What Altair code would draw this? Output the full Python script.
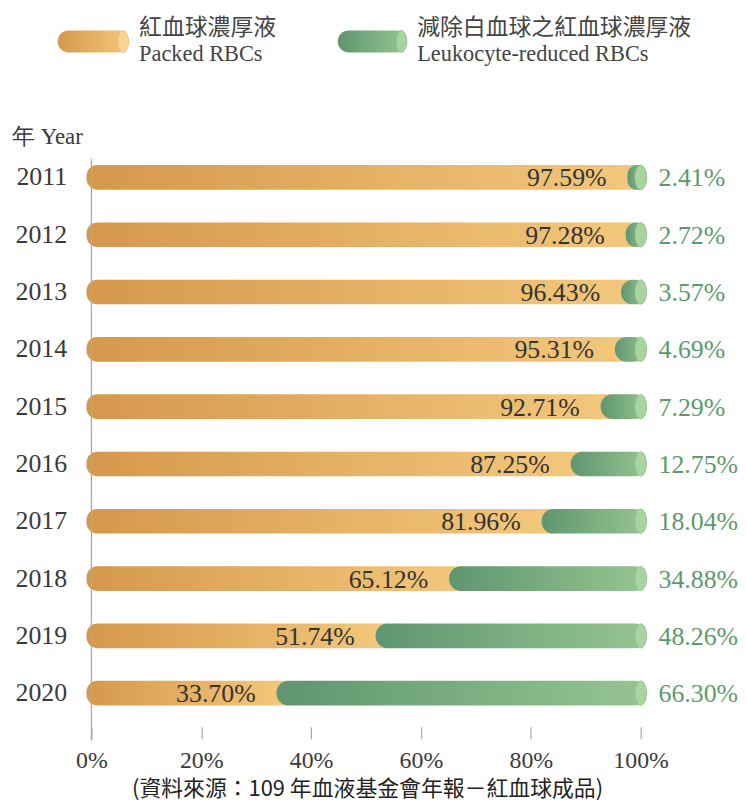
import altair as alt
import pandas as pd

years = ["2011", "2012", "2013", "2014", "2015", "2016", "2017", "2018", "2019", "2020"]
packed = [97.59, 97.28, 96.43, 95.31, 92.71, 87.25, 81.96, 65.12, 51.74, 33.70]
leuko = [2.41, 2.72, 3.57, 4.69, 7.29, 12.75, 18.04, 34.88, 48.26, 66.30]
ticks = [0, 20, 40, 60, 80, 100]

legend_cn = ["紅血球濃厚液", "減除白血球之紅血球濃厚液"]
legend_en = ["Packed RBCs", "Leukocyte-reduced RBCs"]
y_title = "年 Year"
source = "(資料來源：109 年血液基金會年報－紅血球成品)"

df = pd.DataFrame({"year": years, "packed": packed, "leuko": leuko,
                   "full": [100] * len(years), "zero": [0] * len(years)})

SERIF = "Liberation Serif"
CJK = "Noto Sans CJK TC"

orange_grad = alt.LinearGradient(
    gradient="linear", x1=0, x2=1, y1=0, y2=0,
    stops=[alt.GradientStop(offset=0, color="#D5984C"),
           alt.GradientStop(offset=1, color="#F3C87C")])
green_grad = alt.LinearGradient(
    gradient="linear", x1=0, x2=1, y1=0, y2=0,
    stops=[alt.GradientStop(offset=0, color="#5F956F"),
           alt.GradientStop(offset=1, color="#96C591")])

CAP = "M0,-1 A0.48,1 0 1,1 0,1 A0.48,1 0 1,1 0,-1 Z"

xscale = alt.Scale(domain=[0, 100], nice=False)
yscale = alt.Scale(domain=years, paddingInner=0.57, paddingOuter=0.285)

x_axis = alt.Axis(
    values=ticks, format=".0f", labelExpr="datum.label + '%'", title=None,
    domain=False, grid=False, offset=5, tickSize=12, tickColor="#AAAAAA", tickWidth=1.2,
    labelFont=SERIF, labelFontSize=24, labelColor="#3A3A3A", labelPadding=10,
    labelBaseline="top", labelFlush=False)
y_axis = alt.Axis(
    title=None, domain=False, ticks=False, labelFont=SERIF, labelFontSize=26,
    labelColor="#3A3A3A", labelPadding=25, labelAlign="right")

Y = alt.Y("year:N", scale=yscale, sort=years, axis=y_axis)

base = alt.Chart(df)

orange = base.mark_bar(color=orange_grad, cornerRadiusTopLeft=11, cornerRadiusBottomLeft=11,
                       xOffset=-5, x2Offset=12).encode(
    x=alt.X("zero:Q", scale=xscale, axis=x_axis), x2="packed:Q", y=Y)

green = base.mark_bar(color=green_grad, cornerRadius=12, x2Offset=6).encode(
    x=alt.X("packed:Q", scale=xscale), x2="full:Q", y=Y)

cap = base.mark_point(shape=CAP, filled=True, fill="#A9D4A1", stroke="#8CBE87",
                      strokeWidth=0.8, size=600, opacity=1).encode(
    x=alt.X("full:Q", scale=xscale), y=Y)

lbl_packed = base.mark_text(align="right", baseline="middle", dx=-21, dy=1, font=SERIF,
                            fontSize=26, color="#333333").encode(
    x=alt.X("packed:Q", scale=xscale), y=Y,
    text="lp:N").transform_calculate(lp="format(datum.packed, '.2f') + '%'")

lbl_leuko = base.mark_text(align="left", baseline="middle", dx=18, dy=1, font=SERIF,
                           fontSize=26, color="#5C9A6B").encode(
    x=alt.X("full:Q", scale=xscale), y=Y,
    text="ll:N").transform_calculate(ll="format(datum.leuko, '.2f') + '%'")

vline = alt.Chart(pd.DataFrame({"v": [0]})).mark_rule(color="#AAAAAA", strokeWidth=1.3).encode(
    x=alt.X("v:Q", scale=xscale), y=alt.value(10), y2=alt.value(596))

one = pd.DataFrame({"a": [0]})
leg_o = alt.Chart(one).mark_rect(color=orange_grad, cornerRadius=11).encode(
    x=alt.value(-34), x2=alt.value(38), y=alt.value(-119), y2=alt.value(-97))
leg_o_cap = alt.Chart(one).mark_point(shape=CAP, filled=True, fill="#F9D491", stroke="#EBC27A",
                                      strokeWidth=0.8, size=484, opacity=1).encode(
    x=alt.value(32), y=alt.value(-108))
leg_g = alt.Chart(one).mark_rect(color=green_grad, cornerRadius=11).encode(
    x=alt.value(248), x2=alt.value(318), y=alt.value(-119), y2=alt.value(-97))
leg_g_cap = alt.Chart(one).mark_point(shape=CAP, filled=True, fill="#A9D4A1", stroke="#8CBE87",
                                      strokeWidth=0.8, size=484, opacity=1).encode(
    x=alt.value(312), y=alt.value(-108))

def txt(s, x, y, font, size, align="left", color="#444444"):
    return alt.Chart(pd.DataFrame({"t": [s]})).mark_text(
        align=align, baseline="middle", font=font, fontSize=size, color=color).encode(
        x=alt.value(x), y=alt.value(y), text="t:N")

texts = [
    txt(legend_cn[0], 48, -122, CJK, 23),
    txt(legend_en[0], 48, -95, SERIF, 22.5),
    txt(legend_cn[1], 328, -122, CJK, 23),
    txt(legend_en[1], 328, -95, SERIF, 22.5),
    txt(y_title, -80, -12, SERIF, 23, color="#3A3A3A"),
    txt(source, 278, 645, CJK, 22, align="center", color="#222222"),
]

chart = alt.layer(
    orange, green, cap, lbl_packed, lbl_leuko, vline,
    leg_o, leg_o_cap, leg_g, leg_g_cap, *texts
).properties(
    width=553, height=577,
    autosize=alt.AutoSizeParams(type="none"),
    padding={"left": 84, "top": 139, "right": 98, "bottom": 78},
).configure_view(stroke=None)

chart.save("out.html", embed_options={"renderer": "svg", "actions": False})
